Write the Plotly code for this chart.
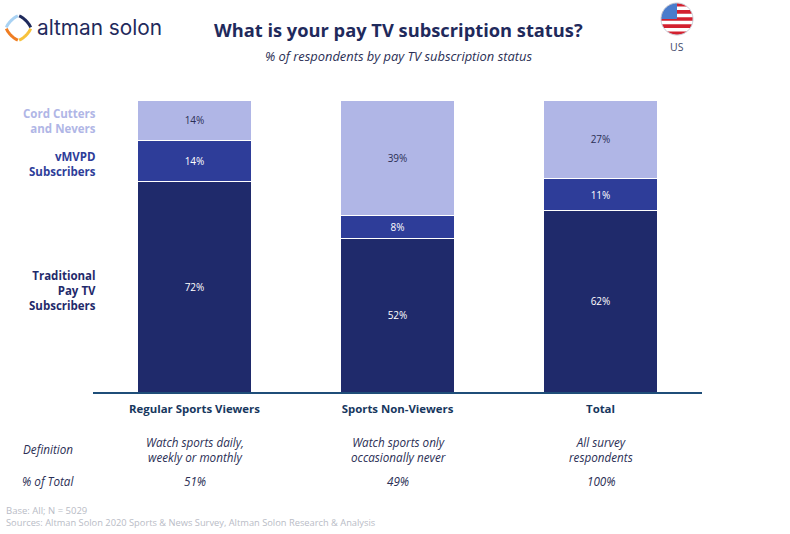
import math
import plotly.graph_objects as go

categories = ["Regular Sports Viewers", "Sports Non-Viewers", "Total"]
traditional = [72, 52, 62]
vmvpd = [14, 8, 11]
cord = [14, 39, 27]
definitions = ["Watch sports daily,<br>weekly or monthly", "Watch sports only<br>occasionally never", "All survey<br>respondents"]
pct_total = ["51%", "49%", "100%"]

W, H = 790, 534
L, R, T, B = 93, 702, 100, 392
FONT = "Open Sans"
NAVY = "#1f2a6b"
MID = "#2e3d99"
LIGHT = "#b0b6e6"
HEAD = "#17375e"
INK = "#2b2f55"


def px(x):
    return (x - L) / (R - L)


def py(y):
    return (B - y) / (B - T)


def note(x, y, text, size=11.5, color=INK, anchor="center", italic=False, bold=False, font=FONT):
    if bold:
        text = f"<b>{text}</b>"
    if italic:
        text = f"<i>{text}</i>"
    return dict(x=px(x), y=py(y), xref="paper", yref="paper", text=text, showarrow=False,
                xanchor=anchor, yanchor="middle", align=anchor,
                font=dict(family=font, size=size, color=color))


def poly(points, close=False):
    d = "M " + " L ".join(f"{px(a):.5f} {py(b):.5f}" for a, b in points)
    return d + (" Z" if close else "")


def shape(path, fill=None, line=None, width=0):
    s = dict(type="path", xref="paper", yref="paper", path=path, layer="above")
    s["fillcolor"] = fill if fill else "rgba(0,0,0,0)"
    s["line"] = dict(color=line if line else "rgba(0,0,0,0)", width=width)
    return s


fig = go.Figure()
for name, vals, colour, tcol in [
    ("Traditional Pay TV Subscribers", traditional, NAVY, "#ffffff"),
    ("vMVPD Subscribers", vmvpd, MID, "#ffffff"),
    ("Cord Cutters and Nevers", cord, LIGHT, "#2b2f55"),
]:
    fig.add_bar(x=categories, y=vals, name=name, marker=dict(color=colour, line=dict(color="white", width=1)),
                text=[f"{v}%" for v in vals], textposition="inside", insidetextanchor="middle",
                textangle=0, constraintext="none",
                textfont=dict(family=FONT, size=10, color=tcol), width=0.565,
                hovertemplate="%{x}<br>%{y}%<extra>" + name + "</extra>")

ann = [
    note(398, 29, "What is your pay TV subscription status?", size=18.3, color="#1f2a5c", bold=True),
    note(398, 56, "% of respondents by pay TV subscription status", size=12.9, color=INK, italic=True),
    note(677, 47, "US", size=10.5, color="#3f4a6b"),
    note(34.5, 28, "altman solon", size=20.8, color="#1f2a5c", anchor="left", font="Inter"),
    note(98, 121, "Cord Cutters<br>and Nevers", size=11.5, color=LIGHT, anchor="right", bold=True),
    note(98, 164, "vMVPD<br>Subscribers", size=11.5, color=MID, anchor="right", bold=True),
    note(98, 290, "Traditional<br>Pay TV<br>Subscribers", size=11.5, color=NAVY, anchor="right", bold=True),
    note(48, 449, "Definition", size=11.7, italic=True),
    note(48, 481, "% of Total", size=11.7, italic=True),
    note(4, 510, "Base: All; N = 5029", size=9.5, color="#b9bcc6", anchor="left"),
    note(4, 522, "Sources: Altman Solon 2020 Sports &amp; News Survey, Altman Solon Research &amp; Analysis",
         size=9.3, color="#b9bcc6", anchor="left"),
]
centres = [195, 398, 601]
for c, d, p in zip(centres, definitions, pct_total):
    ann.append(note(c, 449, d, size=11.7, italic=True))
    ann.append(note(c, 481, p, size=11.7, italic=True))

shapes = []
# logo: rounded diamond in four coloured quarters
cx, cy, r = 18.5, 28, 11
for a0, colour in [(180, "#a9d2f3"), (270, "#1f2a5c"), (0, "#f7c23c"), (90, "#ef7d22")]:
    pts = []
    for i in range(17):
        t = math.radians(a0 + 3 + i * 84 / 16)
        k = (abs(math.cos(t)) ** 1.35 + abs(math.sin(t)) ** 1.35) ** (-1 / 1.35)
        pts.append((cx + r * 1.12 * k * math.cos(t), cy + r * 1.12 * k * math.sin(t)))
    shapes.append(shape(poly(pts), line=colour, width=3))

# flag badge
fx, fy, fr = 677, 19, 16
circle = [(fx + fr * math.cos(math.radians(a)), fy + fr * math.sin(math.radians(a))) for a in range(0, 360, 6)]
shapes.append(shape(poly(circle, True), fill="#ffffff"))
sh = 2 * fr / 9
for i in range(0, 9, 2):
    y0, y1 = fy - fr + i * sh, fy - fr + (i + 1) * sh
    pts = []
    for yy in [y0 + (y1 - y0) * k / 4 for k in range(5)]:
        pts.append((fx + math.sqrt(max(fr * fr - (yy - fy) ** 2, 0)), yy))
    for yy in [y1 - (y1 - y0) * k / 4 for k in range(5)]:
        pts.append((fx - math.sqrt(max(fr * fr - (yy - fy) ** 2, 0)), yy))
    shapes.append(shape(poly(pts, True), fill="#d3202f"))
canton = [(fx, fy - fr), (fx, fy)] + [(fx + fr * math.cos(math.radians(a)), fy + fr * math.sin(math.radians(a)))
                                      for a in range(180, 271, 6)]
shapes.append(shape(poly(canton, True), fill="#4a7ccc"))
shapes.append(shape(poly(circle, True), line="#c9ccd6", width=1))

fig.update_layout(
    width=W, height=H, barmode="stack", barnorm="percent", showlegend=False,
    paper_bgcolor="white", plot_bgcolor="white", bargap=0.435,
    margin=dict(l=L, r=W - R, t=T, b=H - B, autoexpand=False),
    annotations=ann, shapes=shapes,
    xaxis=dict(range=[-0.5, 2.5], showgrid=False, ticks="", showline=True, linecolor="#1f4e79", linewidth=1.5,
               tickfont=dict(family=FONT, size=11.4, color=HEAD, weight="bold"), ticklabelstandoff=6,
               zeroline=False, fixedrange=True),
    yaxis=dict(range=[0, 100], visible=False, fixedrange=True),
)
fig.write_html("out.html", config={"displayModeBar": False},
               post_script="document.body.style.margin='0';document.documentElement.style.overflow='hidden';")
